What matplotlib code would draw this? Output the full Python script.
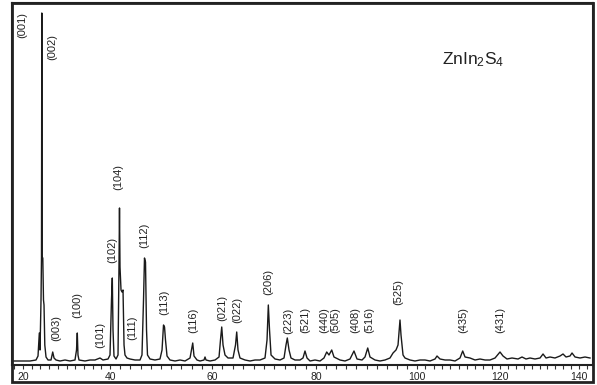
import numpy as np
import matplotlib
matplotlib.use("Agg")
import matplotlib.pyplot as plt
from matplotlib.patches import Rectangle
from matplotlib.ticker import MultipleLocator

# XRD pattern of ZnIn2S4: 2-theta (deg) and intensity (a.u.)
two_theta = [
    17.70, 19.31, 21.61, 22.99, 23.45, 23.75, 23.91, 24.14, 24.25, 24.32,
    24.39, 24.55, 24.71, 24.83, 25.01, 25.29, 25.75, 26.44, 26.83, 27.13,
    27.59, 28.51, 29.66, 30.80, 31.95, 32.30, 32.48, 32.64, 32.87, 34.25,
    35.40, 36.55, 37.70, 38.39, 39.54, 40.00, 40.29, 40.45, 40.59, 40.78,
    41.18, 41.57, 41.76, 41.86, 41.96, 42.16, 42.35, 42.55, 42.75, 42.94,
    43.33, 43.92, 44.90, 45.88, 46.27, 46.57, 46.76, 46.96, 47.16, 47.35,
    47.84, 48.82, 49.80, 50.20, 50.49, 50.69, 50.88, 51.18, 51.76, 52.75,
    53.73, 54.71, 55.69, 56.22, 56.47, 57.06, 57.65, 58.43, 58.63, 58.82,
    59.61, 60.58, 61.35, 61.63, 61.87, 62.12, 62.50, 63.08, 64.04, 64.52,
    64.75, 65.00, 65.38, 66.35, 67.31, 68.27, 69.23, 70.19, 70.58, 70.83,
    71.06, 71.35, 72.12, 73.08, 73.85, 74.23, 74.48, 74.81, 75.19, 75.96,
    76.92, 77.50, 77.88, 78.27, 78.85, 79.81, 80.79, 81.58, 82.12, 82.57,
    83.11, 83.56, 84.75, 85.74, 86.73, 87.52, 88.12, 89.11, 89.70, 90.24,
    90.69, 91.68, 92.67, 93.66, 94.65, 95.25, 95.84, 96.24, 96.44, 96.63,
    96.83, 97.03, 97.23, 97.62, 98.61, 99.60, 100.72, 101.93, 103.13, 104.34,
    104.82, 105.54, 106.75, 107.95, 109.16, 110.36, 111.01, 111.57, 112.77, 113.98,
    115.18, 116.39, 117.59, 118.80, 120.00, 120.76, 121.77, 123.04, 124.56, 125.57,
    126.58, 127.59, 128.86, 130.13, 130.89, 131.65, 132.66, 133.92, 135.19, 135.95,
    136.71, 137.72, 138.23, 138.99, 140.25, 141.52, 142.78,
]
intensity = [
    40, 40, 40, 50, 90, 320, 150, 650, 1080, 3520,
    1080, 1070, 650, 600, 200, 80, 50, 50, 130, 70,
    50, 40, 50, 40, 50, 150, 320, 100, 50, 40,
    50, 50, 70, 50, 60, 100, 650, 870, 350, 90,
    60, 100, 980, 1570, 980, 750, 730, 750, 200, 100,
    70, 60, 50, 50, 100, 650, 1070, 1030, 350, 100,
    60, 50, 60, 150, 400, 380, 250, 90, 50, 40,
    50, 40, 70, 220, 90, 50, 40, 50, 80, 50,
    40, 50, 80, 250, 380, 200, 100, 70, 70, 200,
    330, 150, 70, 50, 40, 50, 50, 70, 250, 600,
    350, 100, 60, 50, 70, 200, 270, 150, 70, 50,
    50, 70, 140, 70, 40, 50, 40, 70, 130, 100,
    150, 80, 50, 40, 60, 140, 60, 50, 80, 170,
    80, 50, 40, 50, 70, 120, 150, 200, 330, 450,
    300, 200, 100, 70, 50, 40, 50, 50, 40, 60,
    90, 60, 50, 50, 40, 70, 140, 80, 70, 50,
    60, 50, 50, 70, 130, 90, 60, 70, 60, 80,
    60, 70, 60, 70, 110, 70, 80, 70, 90, 110,
    80, 90, 120, 80, 70, 80, 70,
]

# Miller-index annotations (label centre in 2-theta / intensity)
peak_labels = ["(001)", "(002)", "(104)", "(003)", "(100)", "(101)", "(102)",
               "(111)", "(112)", "(113)", "(116)", "(021)", "(022)", "(206)",
               "(223)", "(521)", "(440)", "(505)", "(408)", "(516)", "(525)",
               "(435)", "(431)"]
label_theta = [19.77, 26.67, 41.57, 27.70, 32.53, 37.70, 40.49,
               44.41, 46.67, 50.69, 56.27, 61.92, 64.81, 70.77,
               74.62, 77.88, 81.58, 83.76, 87.72, 90.49, 96.24,
               111.08, 120.00]
label_int = [3400, 3180, 1880, 370, 600, 300, 1150,
             370, 1300, 630, 450, 570, 550, 830,
             440, 450, 450, 450, 450, 450, 730,
             450, 450]

tick_values = [20, 40, 60, 80, 100, 120, 140]
phase_name = r"ZnIn$_\mathregular{2}$S$_\mathregular{4}$"

# printed 2-theta axis calibration (degrees -> position along the axis)
axis_deg = [0, 20, 40, 60, 80, 100, 120, 140, 200]
axis_pos = [-64, 23, 110, 212, 316, 417, 500, 579, 816]


def to_axis(x):
    return np.interp(x, axis_deg, axis_pos)


def from_axis(p):
    return np.interp(p, axis_pos, axis_deg)


plt.rcParams["mathtext.fontset"] = "custom"
plt.rcParams["mathtext.rm"] = "Liberation Sans"
plt.rcParams["mathtext.it"] = "Liberation Sans:italic"

W, H = 597, 385
fig = plt.figure(figsize=(W / 100, H / 100), dpi=100)
ax = fig.add_axes([12 / W, 20 / H, 581 / W, 362 / H])

ax.set_xscale("function", functions=(to_axis, from_axis))
ax.plot(two_theta, intensity, color="#1a1a1a", lw=1.0)

ax.set_xlim(17.47, 143.54)
ax.set_ylim(0, 3620)
ax.set_xticks(tick_values)
ax.set_xticklabels([str(v) for v in tick_values], fontsize=7.5,
                   family="Liberation Sans", color="#222222")
ax.xaxis.set_minor_locator(MultipleLocator(2))
ax.tick_params(axis="x", which="both", direction="out", length=3,
               width=0.8, pad=2, color="#333333")
ax.set_yticks([])
for s in ax.spines.values():
    s.set_linewidth(1.5)
    s.set_color("#222222")

for lab, x, y in zip(peak_labels, label_theta, label_int):
    ax.text(x, y, lab, rotation=90, ha="center", va="center",
            fontsize=8, family="Liberation Sans", color="#222222")

ax.text(0.740, 0.8315, phase_name, transform=ax.transAxes, ha="left",
        va="baseline", fontsize=12.5, family="Liberation Sans", color="#222222")

# outer frame around plot and tick-label strip
fig.add_artist(Rectangle((12 / W, 3 / H), 581 / W, 379 / H,
                         transform=fig.transFigure, fill=False,
                         lw=2.0, ec="#222222"))

fig.savefig("out.png", dpi=100)
